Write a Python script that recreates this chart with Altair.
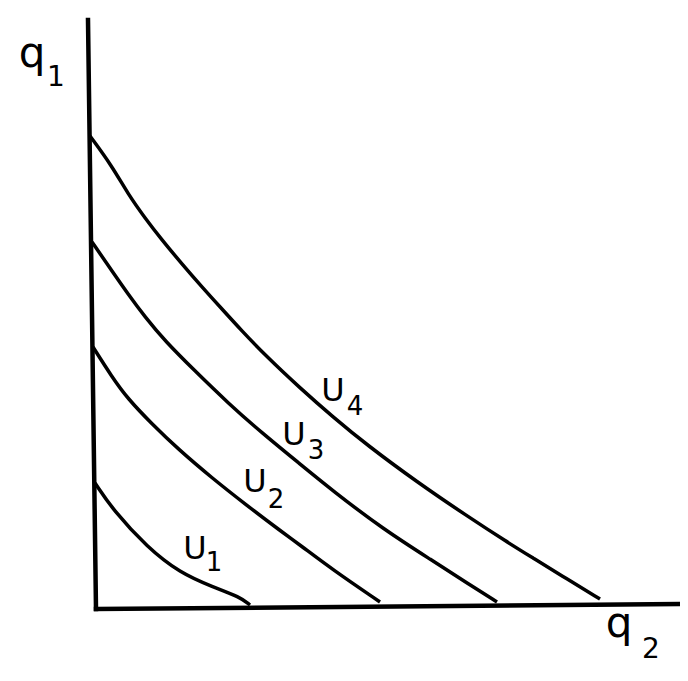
import altair as alt
import pandas as pd

# Indifference curves (q2 on x, q1 on y)
u4_q2 = [-0.6, 1.6, 3.2, 4.9, 6.6, 8.6, 10.6, 12.6, 14.6, 16.9, 20.4, 23.7, 27.1, 32.1, 37.1, 41.1, 43.7, 47.1, 50.4]
u4_q1 = [47.1, 44.1, 41.3, 38.9, 36.7, 34.3, 32.0, 29.8, 27.6, 25.2, 21.9, 19.0, 16.2, 12.5, 9.1, 6.5, 4.9, 2.8, 0.8]

u3_q2 = [-0.4, 1.6, 3.2, 4.9, 6.9, 9.9, 13.2, 16.6, 20.4, 23.7, 28.7, 33.7, 37.1, 40.1]
u3_q1 = [36.5, 33.6, 31.3, 29.0, 26.6, 23.6, 20.4, 17.4, 14.3, 11.6, 7.8, 4.6, 2.4, 0.5]

u2_q2 = [-0.3, 1.6, 3.2, 5.6, 8.2, 11.6, 14.9, 18.6, 20.4, 23.7, 28.4]
u2_q1 = [26.0, 23.0, 20.8, 18.3, 15.8, 12.9, 10.3, 7.5, 6.2, 3.7, 0.5]

u1_q2 = [-0.1, 1.7, 5.1, 8.4, 11.7, 14.4, 15.4]
u1_q1 = [12.4, 9.7, 6.0, 3.4, 2.0, 1.0, 0.2]

# Axes (hand drawn, slightly tilted)
axis_names = ["q1axis", "q1axis", "q2axis", "q2axis"]
axis_x = [-0.8, 0.0, 0.0, 58.4]
axis_y = [58.7, -0.2, -0.2, 0.3]

# Curve labels: letter and subscript digit
letter_text = ["U", "U", "U", "U"]
letter_x = [23.7, 19.8, 15.9, 9.9]
letter_y = [21.6, 17.2, 12.5, 5.8]
digit_text = ["4", "3", "2", "1"]
digit_x = [25.9, 22.0, 18.0, 11.8]
digit_y = [20.0, 15.6, 10.7, 4.4]

# Axis titles: q with subscript
q_text = ["q", "q"]
q_x = [-6.4, 52.3]
q_y = [54.0, -3.0]
q_sub_text = ["1", "2"]
q_sub_x = [-4.0, 55.5]
q_sub_y = [52.9, -4.3]

rows = []
for name, xs, ys in [("U4", u4_q2, u4_q1), ("U3", u3_q2, u3_q1),
                     ("U2", u2_q2, u2_q1), ("U1", u1_q2, u1_q1)]:
    for i, (a, b) in enumerate(zip(xs, ys)):
        rows.append({"curve": name, "q2": a, "q1": b, "i": i})
curves = pd.DataFrame(rows)

axes_df = pd.DataFrame({"name": axis_names, "q2": axis_x, "q1": axis_y,
                        "i": [0, 1, 0, 1]})
letters_df = pd.DataFrame({"t": letter_text, "q2": letter_x, "q1": letter_y})
digits_df = pd.DataFrame({"t": digit_text, "q2": digit_x, "q1": digit_y})
q_df = pd.DataFrame({"t": q_text, "q2": q_x, "q1": q_y})
qsub_df = pd.DataFrame({"t": q_sub_text, "q2": q_sub_x, "q1": q_sub_y})

xs = alt.Scale(domain=[-8.8, 58.4], nice=False, zero=False)
ys = alt.Scale(domain=[-6.6, 59.9], nice=False, zero=False)

X = alt.X("q2:Q", scale=xs, axis=None)
Y = alt.Y("q1:Q", scale=ys, axis=None)

axes_layer = alt.Chart(axes_df).mark_line(color="black", strokeWidth=4.5,
                                          strokeCap="square").encode(
    x=X, y=Y, detail="name:N", order="i:Q")

curve_layer = alt.Chart(curves).mark_line(color="black", strokeWidth=3.5,
                                          interpolate="basis").encode(
    x=X, y=Y, detail="curve:N", order="i:Q")

letter_layer = alt.Chart(letters_df).mark_text(
    font="DejaVu Sans", fontSize=32, color="black", align="center",
    baseline="middle").encode(x=X, y=Y, text="t:N")

digit_layer = alt.Chart(digits_df).mark_text(
    font="DejaVu Sans", fontSize=26, color="black", align="center",
    baseline="middle").encode(x=X, y=Y, text="t:N")

q_layer = alt.Chart(q_df).mark_text(
    font="DejaVu Sans", fontSize=42, color="black", align="center",
    baseline="alphabetic").encode(x=X, y=Y, text="t:N")

qsub_layer = alt.Chart(qsub_df).mark_text(
    font="DejaVu Sans", fontSize=28, color="black", align="center",
    baseline="middle").encode(x=X, y=Y, text="t:N")

chart = alt.layer(axes_layer, curve_layer, letter_layer, digit_layer,
                  q_layer, qsub_layer).properties(
    width=672, height=665, padding=0, autosize="none", background="white"
).configure_view(stroke=None)

chart.save("out.html", embed_options={"renderer": "svg", "actions": False})
